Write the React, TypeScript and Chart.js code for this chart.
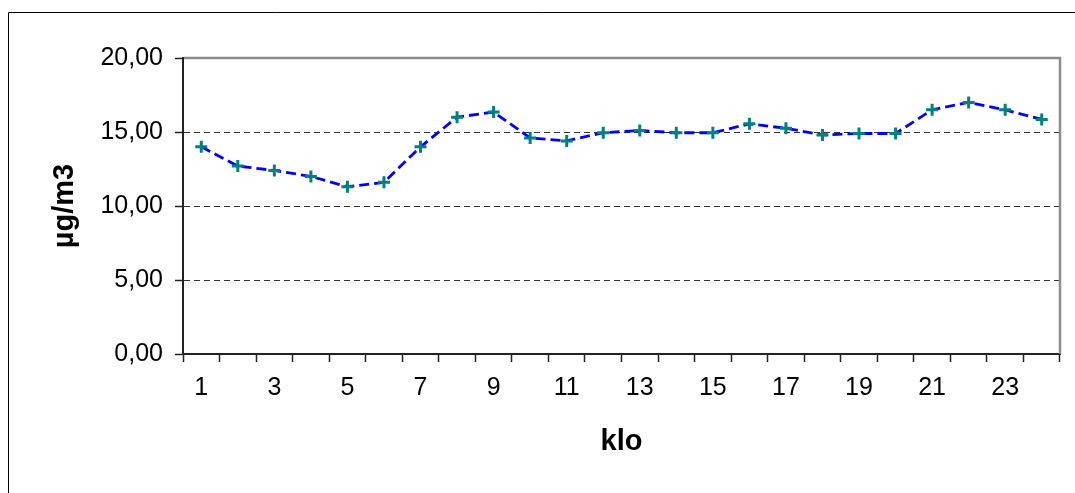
import React, { useEffect, useRef } from "react";
import { Chart, registerables } from "chart.js";

Chart.register(...registerables);

const hours: string[] = ["1","2","3","4","5","6","7","8","9","10","11","12","13","14","15","16","17","18","19","20","21","22","23","24"];
const concentration: number[] = [14.0, 12.7, 12.4, 12.0, 11.3, 11.6, 14.0, 16.0, 16.35, 14.6, 14.4, 14.95, 15.1, 14.95, 14.95, 15.55, 15.25, 14.8, 14.9, 14.9, 16.5, 17.0, 16.5, 15.85];
const yMin = 0;
const yMax = 20;
const yStep = 5;
const xTitle = "klo";
const yTitle = "µg/m3";

const FONT = "'Liberation Sans', Arial, sans-serif";

const framePlugin = {
  id: "frame",
  beforeDraw(chart: any) {
    const ctx = chart.ctx;
    ctx.save();
    ctx.fillStyle = "#ffffff";
    ctx.fillRect(0, 0, chart.width, chart.height);
    ctx.strokeStyle = "#000000";
    ctx.lineWidth = 1;
    ctx.beginPath();
    ctx.moveTo(8.5, chart.height + 5);
    ctx.lineTo(8.5, 12.5);
    ctx.lineTo(chart.width + 5, 12.5);
    ctx.stroke();
    ctx.restore();
  },
  afterDraw(chart: any) {
    const { ctx, chartArea } = chart;
    ctx.save();
    ctx.strokeStyle = "#8c8c8c";
    ctx.lineWidth = 2.5;
    ctx.beginPath();
    ctx.moveTo(chartArea.left + 1, chartArea.top);
    ctx.lineTo(chartArea.right, chartArea.top);
    ctx.lineTo(chartArea.right, chartArea.bottom);
    ctx.stroke();
    ctx.restore();
  },
};

export default function App() {
  const ref = useRef<HTMLCanvasElement | null>(null);

  useEffect(() => {
    document.body.style.margin = "0";
    if (!ref.current) return;
    const chart = new Chart(ref.current, {
      type: "line",
      data: {
        labels: hours,
        datasets: [
          {
            data: concentration,
            borderColor: "#0000ff",
            borderWidth: 2.8,
            borderDash: [10, 5],
            tension: 0,
            fill: false,
            pointStyle: "cross",
            pointRadius: 6,
            pointBorderColor: "#008080",
            pointBackgroundColor: "#008080",
            pointBorderWidth: 3,
          },
        ],
      },
      options: {
        responsive: false,
        animation: false,
        layout: {
          autoPadding: false,
          padding: { left: 0, top: 58, right: 15, bottom: 0 },
        },
        plugins: {
          legend: { display: false },
          tooltip: { enabled: false },
        },
        scales: {
          x: {
            type: "category",
            offset: true,
            afterFit: (scale: any) => {
              scale.height = 139;
            },
            grid: {
              offset: true,
              drawOnChartArea: false,
              drawTicks: true,
              tickLength: 8,
              tickColor: "#222222",
              tickWidth: 1.5,
            },
            border: { display: true, color: "#222222", width: 2 },
            ticks: {
              autoSkip: false,
              maxRotation: 0,
              minRotation: 0,
              padding: 11,
              color: "#000000",
              font: { family: FONT, size: 25 },
              callback: (_v: any, i: number) => (i % 2 === 0 ? hours[i] : ""),
            },
            title: {
              display: true,
              text: xTitle,
              color: "#000000",
              font: { family: FONT, size: 29, weight: "bold" },
              padding: { top: 0, bottom: 34 },
            },
          },
          y: {
            min: yMin,
            max: yMax,
            afterFit: (scale: any) => {
              scale.width = 183;
            },
            grid: {
              drawTicks: true,
              tickLength: 8,
              tickColor: "#222222",
              tickWidth: 1.5,
              tickBorderDash: [],
              color: (c: any) =>
                c.tick && (c.tick.value === yMin || c.tick.value === yMax) ? "rgba(0,0,0,0)" : "#333333",
              lineWidth: 1,
            },
            border: { display: true, color: "#222222", width: 2, dash: [6, 4] },
            ticks: {
              stepSize: yStep,
              padding: 12,
              color: "#000000",
              font: { family: FONT, size: 25 },
              callback: (v: any) => Number(v).toFixed(2).replace(".", ","),
            },
            title: {
              display: true,
              text: yTitle,
              color: "#000000",
              font: { family: FONT, size: 29, weight: "bold" },
              padding: { top: 48, bottom: 0 },
            },
          },
        },
      },
      plugins: [framePlugin],
    });
    return () => chart.destroy();
  }, []);

  return (
    <div style={{ width: 1075, height: 493 }}>
      <canvas ref={ref} width={1075} height={493} style={{ display: "block", width: 1075, height: 493 }} />
    </div>
  );
}
